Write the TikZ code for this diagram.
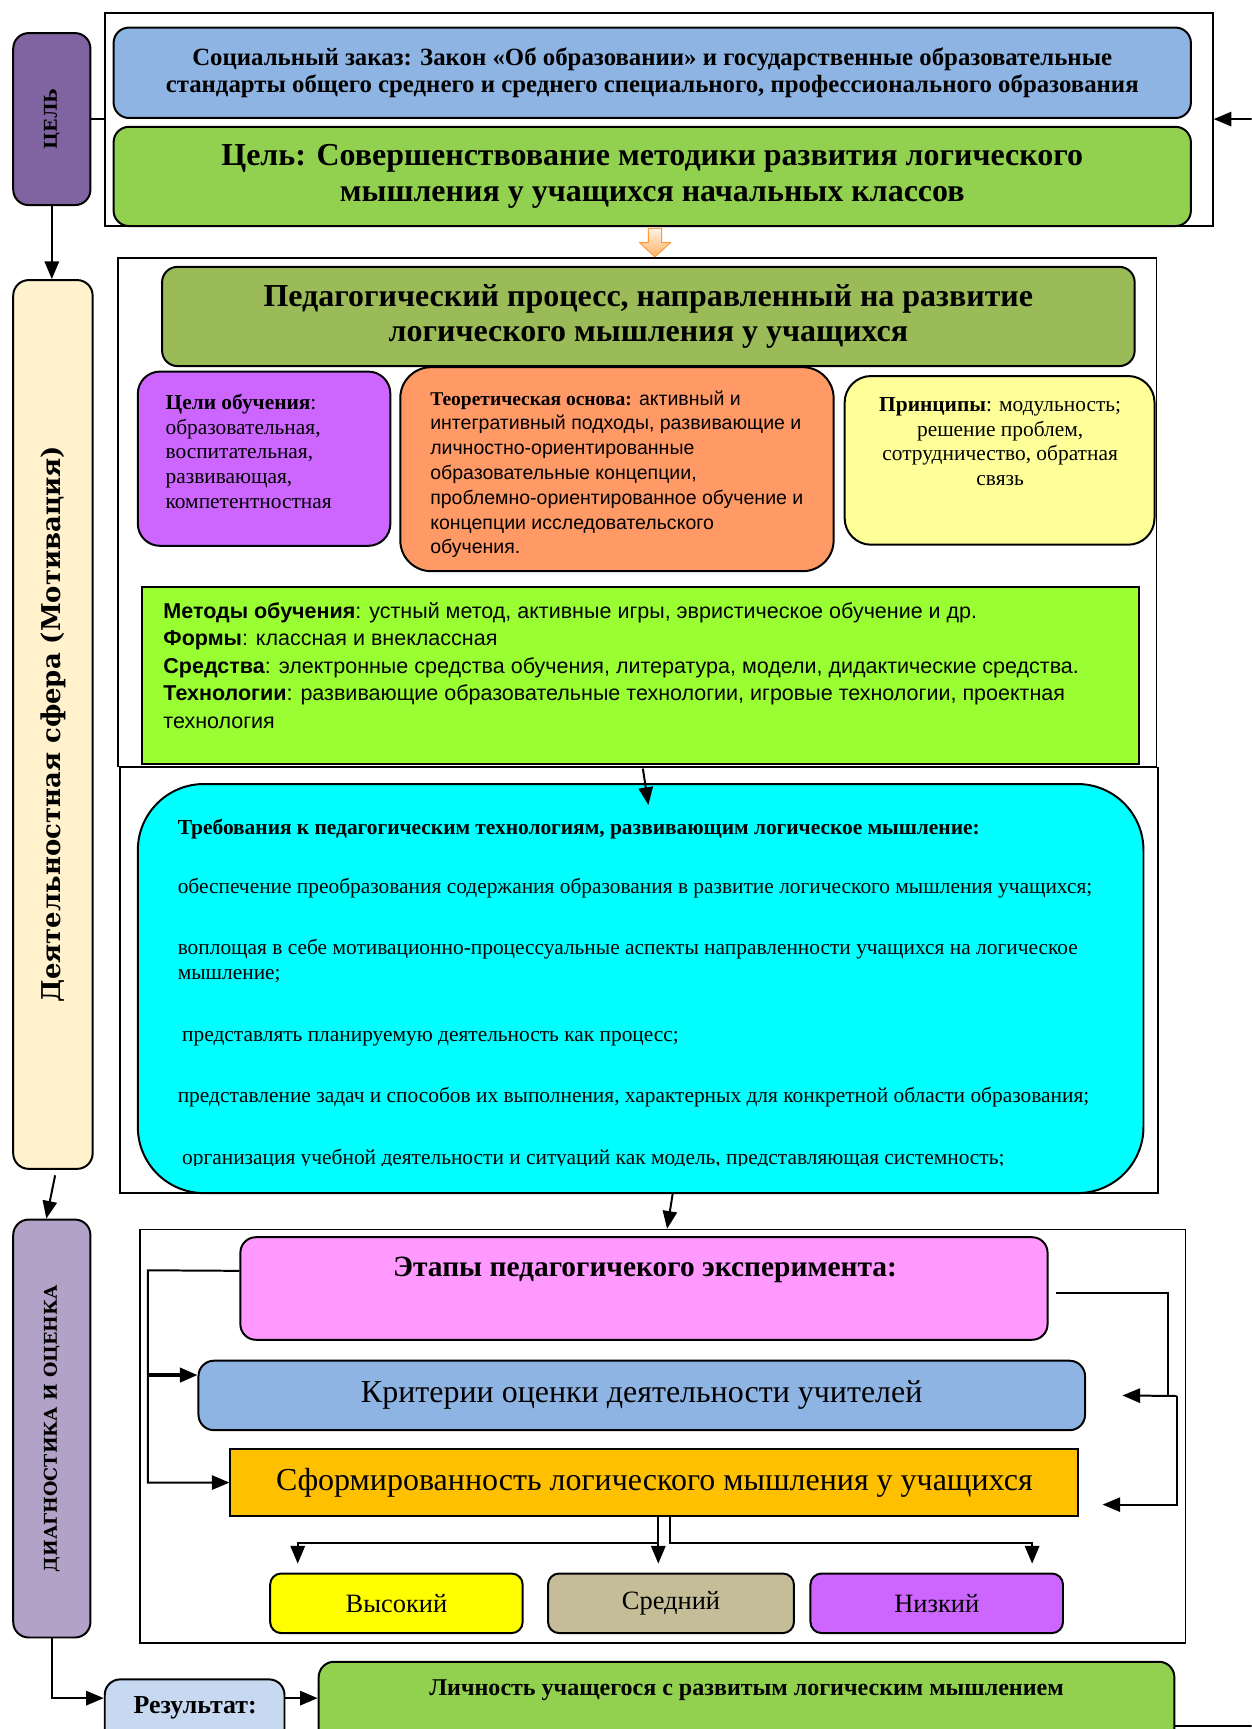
\documentclass[tikz,border=0pt]{standalone}
\usepackage{fontspec}
\setmainfont{Liberation Serif}
\newfontfamily\arialfont{Liberation Sans}
\newfontfamily\widefont{DejaVu Serif}
\usepackage{tikz}
\usetikzlibrary{arrows.meta,positioning,calc}
\usepackage{xcolor}
\definecolor{celpurple}{RGB}{128,100,162}
\definecolor{socblue}{RGB}{142,180,227}
\definecolor{goalgreen}{RGB}{146,208,80}
\definecolor{procolive}{RGB}{155,187,89}
\definecolor{aimsviolet}{RGB}{204,102,255}
\definecolor{theoryorange}{RGB}{255,153,102}
\definecolor{princyellow}{RGB}{255,255,153}
\definecolor{methodlime}{RGB}{153,255,51}
\definecolor{reqcyan}{RGB}{0,255,255}
\definecolor{actcream}{RGB}{255,242,204}
\definecolor{diaglilac}{RGB}{179,162,199}
\definecolor{stagepink}{RGB}{255,153,255}
\definecolor{formgold}{RGB}{255,192,0}
\definecolor{highyellow}{RGB}{255,255,0}
\definecolor{midkhaki}{RGB}{196,189,151}
\definecolor{resblue}{RGB}{198,217,241}
\newcommand{\fsz}[2]{\fontsize{#1}{#2}\selectfont}
\tikzstyle{link} = [line width=1.8pt,-{Triangle[length=16pt,width=13pt]}]
\tikzstyle{wire} = [line width=1.8pt]
\tikzstyle{framebox} = [rectangle, draw, line width=1.4pt, inner sep=0pt]
\tikzstyle{roundbox} = [rectangle, rounded corners=14pt, draw, line width=1.8pt, inner sep=0pt, align=center]
\tikzstyle{flatbox} = [rectangle, draw, line width=1.8pt, inner sep=0pt, align=center]
\tikzstyle{reqline} = [anchor=west, inner sep=0pt, font=\fsz{19.4}{23}, text height=13.5pt, text depth=4.5pt]
\tikzstyle{levelbox} = [roundbox, rounded corners=10pt, minimum width=229, minimum height=54, font=\fsz{24}{28}]
\begin{document}
\begin{tikzpicture}[x=1pt,y=-1pt]
\useasboundingbox (0,0) rectangle (1135,1568);
\clip (0,0) rectangle (1135,1568);
\fill[white] (0,0) rectangle (1135,1568);

% Goal
\node[framebox, minimum width=1005, minimum height=193] (frame1) at (597.5,108.5) {};
\node[roundbox, fill=celpurple, minimum width=70, minimum height=156] (cel) at (47,108) {};
\node[rotate=90, font=\widefont\bfseries\fsz{16}{18}] (cellabel) at (cel.center) {ЦЕЛЬ};
\node[roundbox, fill=socblue, minimum width=977, minimum height=82, font=\bfseries\fsz{22.5}{25}] (soc) at (591.5,66) {Социальный заказ: Закон «Об образовании» и государственные образовательные\\стандарты общего среднего и среднего специального, профессионального образования};
\node[roundbox, fill=goalgreen, minimum width=977, minimum height=90, font=\bfseries\fsz{29}{33}] (goal) at (591.5,160) {Цель: Совершенствование методики развития логического\\мышления у учащихся начальных классов};
\filldraw[draw=orange!80, top color=orange!10, bottom color=orange!60, line width=0.8pt] (588,207) -- (600,207) -- (600,220) -- (608,220) -- (594,233) -- (580,220) -- (588,220) -- cycle;

% Pedagogical process
\node[framebox, minimum width=942, minimum height=461] (frame2) at (578,464.5) {};
\node[roundbox, fill=procolive, minimum width=882, minimum height=90, font=\bfseries\fsz{29}{32}] (proc) at (588,287) {Педагогический процесс, направленный на развитие\\логического мышления у учащихся};
\node[roundbox, rounded corners=20pt, fill=aimsviolet, minimum width=229, minimum height=158] (aims) at (239.5,416) {};
\node[anchor=north west, align=left, inner sep=0pt, font=\fsz{19.4}{22.5}] (aimstext) at (150,357) {\textbf{Цели обучения}:\\образовательная,\\воспитательная,\\развивающая,\\компетентностная};
\node[roundbox, rounded corners=28pt, fill=theoryorange, minimum width=393, minimum height=185] (theory) at (559.5,425.5) {};
\node[anchor=north west, align=left, inner sep=0pt, font=\arialfont\fsz{17.7}{22.5}] (theorytext) at (390,354) {{\rmfamily\bfseries Теоретическая основа:} активный и\\интегративный подходы, развивающие и\\личностно-ориентированные\\образовательные концепции,\\проблемно-ориентированное обучение и\\концепции исследовательского\\обучения.};
\node[roundbox, rounded corners=24pt, fill=princyellow, minimum width=281, minimum height=153] (princ) at (906.5,417.5) {};
\node[anchor=north, align=center, inner sep=0pt, font=\fsz{19.4}{22.5}] (princtext) at (907,360) {\textbf{Принципы}: модульность;\\решение проблем,\\сотрудничество, обратная\\связь};
\node[flatbox, fill=methodlime, minimum width=904, minimum height=161] (methods) at (581,612.5) {};
\node[anchor=north west, align=left, inner sep=0pt, font=\arialfont\fsz{19.5}{25}] (methodstext) at (148,546) {\textbf{Методы обучения}: устный метод, активные игры, эвристическое обучение и др.\\\textbf{Формы}: классная и внеклассная\\\textbf{Средства}: электронные средства обучения, литература, модели, дидактические средства.\\\textbf{Технологии}: развивающие образовательные технологии, игровые технологии, проектная\\технология};

% Requirements
\node[framebox, minimum width=941, minimum height=386] (frame3) at (579.5,889) {};
\node[roundbox, rounded corners=60pt, fill=reqcyan, minimum width=912, minimum height=371] (req) at (581,896.5) {};
\coordinate (reqin) at (583,697);
\coordinate (reqtip) at (588,730);
\draw[link] (reqin) -- (reqtip);
\node[reqline, font=\bfseries\fsz{19.4}{22}] (req0) at (161,752) {Требования к педагогическим технологиям, развивающим логическое мышление:};
\node[reqline] (req1) at (161,806) {обеспечение преобразования содержания образования в развитие логического мышления учащихся;};
\node[reqline] (req2a) at (161,861) {воплощая в себе мотивационно-процессуальные аспекты направленности учащихся на логическое};
\node[reqline] (req2b) at (161,884) {мышление;};
\node[reqline] (req3) at (165,940) {представлять планируемую деятельность как процесс;};
\node[reqline] (req4) at (161,995) {представление задач и способов их выполнения, характерных для конкретной области образования;};
\begin{scope}
\clip (125,711) rectangle (1037,1057);
\node[reqline] (req5) at (165,1052) {организация учебной деятельности и ситуаций как модель, представляющая системность;};
\end{scope}

% Left column
\node[roundbox, fill=actcream, minimum width=72, minimum height=806] (act) at (48,657) {};
\node[rotate=90, font=\widefont\bfseries\fsz{23.5}{28}] (actlabel) at (act.center) {Деятельностная сфера (Мотивация)};
\node[roundbox, fill=diaglilac, minimum width=70, minimum height=379] (diag) at (47,1295.5) {};
\node[rotate=90, font=\widefont\bfseries\fsz{16}{18}] (diaglabel) at (diag.center) {ДИАГНОСТИКА И ОЦЕНКА};
\draw[link] (cel.south) -- (cel.south |- act.north);
\draw[link] ([xshift=2pt,yshift=-5pt]act.south) -- ([xshift=-5pt]diag.north);
\draw[wire] (cel.east) -- (cel.east -| frame1.west);
\coordinate (fbtop) at (1135,108);
\draw[link] (fbtop) -- (fbtop -| frame1.east);

% Experiment
\node[framebox, minimum width=948, minimum height=375] (frame4) at (601,1302.5) {};
\draw[link] ([xshift=29pt]req.south) -- ([xshift=4pt]frame4.north);
\node[roundbox, fill=stagepink, minimum width=732, minimum height=93] (stages) at (584,1168.5) {};
\node[font=\bfseries\fsz{26.7}{30}, inner sep=0pt] (stagestext) at (585,1152) {Этапы педагогичекого эксперимента:};
\node[roundbox, fill=socblue, minimum width=804, minimum height=63, font=\fsz{29}{32}] (crit) at (582,1265.5) {Критерии оценки деятельности учителей};
\node[flatbox, fill=formgold, minimum width=769, minimum height=61, font=\fsz{29}{32}] (form) at (593.5,1344.5) {Сформированность логического мышления у учащихся};
\node[levelbox, fill=highyellow] (high) at (359.5,1454) {Высокий};
\node[levelbox, fill=midkhaki, minimum width=223] (mid) at (608.5,1454) {Средний};
\node[levelbox, fill=aimsviolet] (low) at (849.5,1454) {Низкий};

% Feedback inside the experiment
\coordinate (ltop) at (134,1152);
\draw[link] ([yshift=16pt]stages.west) -- (ltop) |- (form.west);
\draw[link, line width=3pt] (ltop |- 0,1247) -- (crit.west |- 0,1247);
\coordinate (rtop) at (1059,1173);
\coordinate (rmid) at (1067,1266);
\draw[wire] (958,1173) -- (rtop) -- (rtop |- rmid);
\draw[link] (rmid) -- ([xshift=33pt]crit.east);
\draw[link] (rmid) |- ([xshift=21pt,yshift=-20pt]form.east);

% Levels
\coordinate (split) at (0,1399);
\coordinate (aL) at (270,1418);
\coordinate (aM) at (597,1418);
\coordinate (aR) at (936,1418);
\draw[link] (aM |- form.south) |- (split -| aL) -- (aL);
\draw[link] (aM |- form.south) -- (aM);
\draw[link] ([xshift=14.5pt]form.south) |- (split -| aR) -- (aR);

% Result
\node[roundbox, fill=resblue, minimum width=163, minimum height=60] (res) at (176.5,1553) {};
\node[font=\bfseries\fsz{23.5}{26}, inner sep=0pt] (restext) at (177,1549) {Результат:};
\node[roundbox, fill=goalgreen, minimum width=776, minimum height=90] (pers) at (677,1552) {};
\node[font=\bfseries\fsz{21.8}{24}, inner sep=0pt] (perstext) at (677,1533) {Личность учащегося с развитым логическим мышлением};
\draw[link] (diag.south) |- ([yshift=13pt]res.west);
\draw[link] ([yshift=13pt]res.east) -- ([yshift=13pt]res.east -| pers.west);
\coordinate (fbbot) at (1135,1565);
\draw[wire] (pers.east |- fbbot) -- (fbbot);
\end{tikzpicture}
\end{document}
